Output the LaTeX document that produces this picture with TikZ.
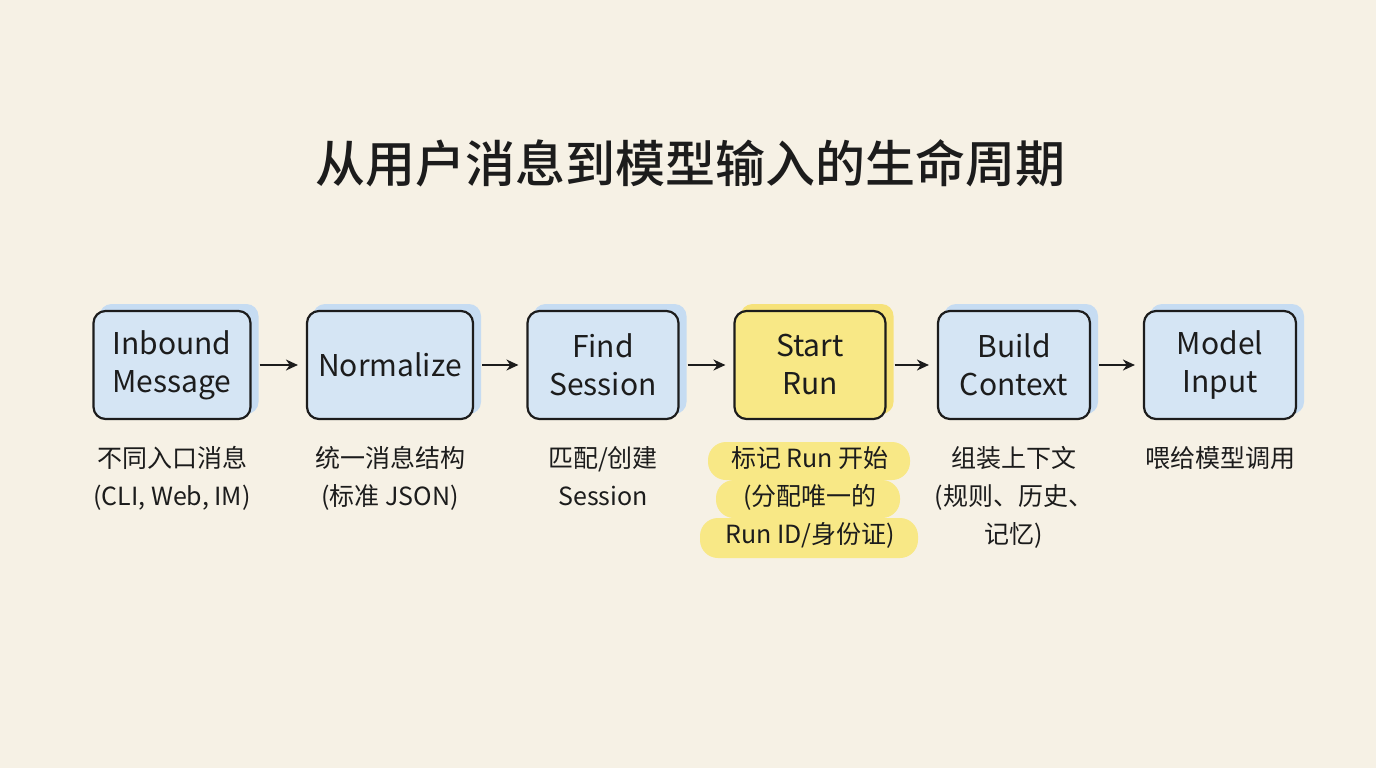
\documentclass[tikz,border=0pt]{standalone}
\usepackage{fontspec}
\setmainfont{Noto Sans CJK SC}
\newfontfamily\titlefont{Noto Sans CJK SC Medium}
\usetikzlibrary{arrows.meta}
\definecolor{bg}{HTML}{F6F1E5}
\definecolor{bfill}{HTML}{D5E5F4}
\definecolor{bshadow}{HTML}{C6DCF2}
\definecolor{yfill}{HTML}{F8E886}
\definecolor{yshadow}{HTML}{F6E27A}
\definecolor{ink}{HTML}{1C1C1C}
\begin{document}
\begin{tikzpicture}[x=1pt,y=-1pt,
  box/.style={draw=ink,line width=2.2pt,rounded corners=12pt,minimum width=152pt,minimum height=108pt,align=center,font=\fontsize{30}{38}\selectfont,text=ink},
  blue/.style={box,fill=bfill},
  yel/.style={box,fill=yfill},
  lab/.style={align=center,font=\fontsize{25}{38}\selectfont,text=ink,anchor=north},
  arr/.style={-{Stealth[length=12pt,width=11pt]},line width=1.8pt,draw=ink,shorten <=8pt,shorten >=8pt}]
\fill[bg] (0,0) rectangle (1376,768);
\useasboundingbox (0,0) rectangle (1376,768);
\node[font=\fontsize{50}{58}\selectfont\titlefont,text=ink] (title) at (690,163) {从用户消息到模型输入的生命周期};
\foreach \x/\w/\c in {172/157/bshadow,390/166/bshadow,603/151/bshadow,810/151/yshadow,1014/152/bshadow,1220/152/bshadow}
  \fill[\c,rounded corners=12pt] (\x-\w/2+6,304) rectangle (\x+\w/2+8,414);
\node[blue,minimum width=157pt] (a) at (172,365) {Inbound\\Message};
\node[blue,minimum width=166pt] (b) at (390,365) {Normalize};
\node[blue,minimum width=151pt] (c) at (603,365) {Find\\Session};
\node[yel,minimum width=151pt] (d) at (810,365) {Start\\Run};
\node[blue,minimum width=152pt] (e) at (1014,365) {Build\\Context};
\node[blue,minimum width=152pt] (f) at (1220,365) {Model\\Input};
\draw[arr] (a) -- (b);
\draw[arr] (b) -- (c);
\draw[arr] (c) -- (d);
\draw[arr] (d) -- (e);
\draw[arr] (e) -- (f);
\fill[yfill,rounded corners=18pt] (708,442) rectangle (910,480);
\fill[yfill,rounded corners=18pt] (716,480) rectangle (900,518);
\fill[yfill,rounded corners=18pt] (700,518) rectangle (918,558);
\node[lab] (la) at (172,443) {不同入口消息\\(CLI, Web, IM)};
\node[lab] (lb) at (390,443) {统一消息结构\\(标准 JSON)};
\node[lab] (lc) at (603,443) {匹配/创建\\Session};
\node[lab] (ld) at (810,443) {标记 Run 开始\\(分配唯一的\\Run ID/身份证)};
\node[lab] (le) at (1014,443) {组装上下文\\(规则、历史、\\记忆)};
\node[lab] (lf) at (1220,443) {喂给模型调用};
\end{tikzpicture}
\end{document}
